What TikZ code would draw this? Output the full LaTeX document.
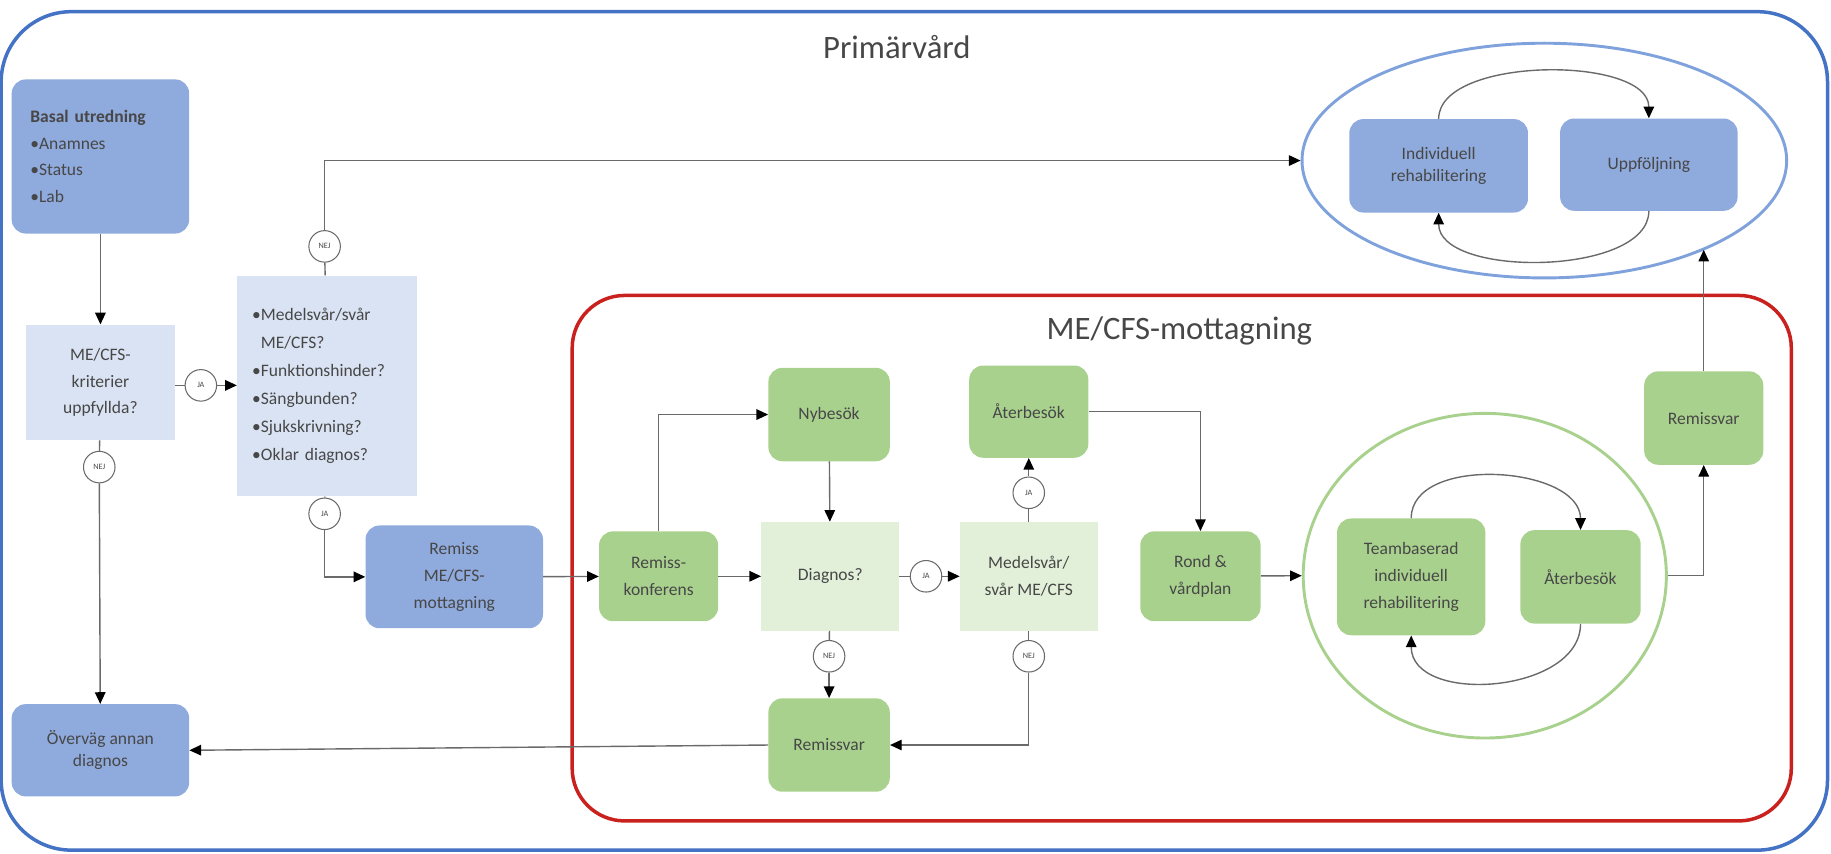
\documentclass[tikz,border=0pt]{standalone}
\usepackage{fontspec}
\setmainfont{Carlito}
\usepackage{xcolor}
\usetikzlibrary{shapes.geometric, arrows.meta}

\definecolor{boxblue}{HTML}{8FAADC}
\definecolor{paleblue}{HTML}{DAE3F3}
\definecolor{boxgreen}{HTML}{A9D18E}
\definecolor{palegreen}{HTML}{E2F0D9}
\definecolor{frameblue}{HTML}{4472C4}
\definecolor{ringblue}{HTML}{7FA1DC}
\definecolor{framered}{HTML}{C9211E}
\definecolor{ringgreen}{HTML}{A9D18E}
\definecolor{txt}{HTML}{474747}
\definecolor{wirec}{HTML}{6A6A6A}

\begin{document}
\begin{tikzpicture}[x=1pt, y=-1pt,
  box/.style={align=center, text=txt, font=\fontsize{15}{19}\selectfont, inner sep=2pt},
  bluebox/.style={box, fill=boxblue, rounded corners=12pt},
  greenbox/.style={box, fill=boxgreen, rounded corners=12pt},
  qbox/.style={box, fill=paleblue},
  qgreen/.style={box, fill=palegreen},
  answer/.style={circle, draw=wirec, fill=white, line width=0.9pt, minimum size=27pt, inner sep=0pt, text=txt, font=\fontsize{7}{8}\selectfont},
  ring/.style={ellipse, line width=2.5pt, inner sep=0pt},
  wire/.style={draw=wirec, line width=1.2pt},
  arr/.style={wire, -{Triangle[length=10pt, width=9pt, color=black]}},
  title/.style={text=txt, font=\fontsize{28}{30}\selectfont}]
\useasboundingbox (0,0) rectangle (1568,731);

% frames
\draw[frameblue, line width=3pt, rounded corners=60pt] (1,10) rectangle (1565,728);
\draw[framered, line width=3pt, rounded corners=45pt] (490,253) rectangle (1534,703);
\node[title] (primar) at (768,40) {Primärvård};
\node[title] (mottag) at (1010,283) {ME/CFS-mottagning};

% primary care
\node[bluebox, text width=120pt, align=left, minimum width=152pt, minimum height=132pt, font=\fontsize{15}{23}\selectfont] (basal) at (86,134)
  {{\bfseries Basal utredning}\\•Anamnes\\•Status\\•Lab};
\node[qbox, minimum width=128pt, minimum height=99pt, font=\fontsize{15}{23}\selectfont] (krit) at (86,327.5) {ME/CFS-\\kriterier\\uppfyllda?};
\node[qbox, text width=128pt, align=left, minimum width=154pt, minimum height=189pt, font=\fontsize{15}{24}\selectfont] (qlist) at (280,330.5)
  {•Medelsvår/svår\\\phantom{•}ME/CFS?\\•Funktionshinder?\\•Sängbunden?\\•Sjukskrivning?\\•Oklar diagnos?};
\node[bluebox, minimum width=152pt, minimum height=79pt] (ovv) at (86,642.5) {Överväg annan\\diagnos};
\node[bluebox, minimum width=152pt, minimum height=88pt, font=\fontsize{15}{23}\selectfont] (remiss) at (389,494) {Remiss\\ME/CFS-\\mottagning};

\node[answer] (ja1) at (172,330) {JA};
\node[answer] (nej1) at (278,211) {NEJ};
\node[answer] (nej2) at (85,400) {NEJ};
\node[answer] (ja2) at (278,440) {JA};

% ME/CFS clinic
\node[greenbox, minimum width=102pt, minimum height=77pt, font=\fontsize{15}{23}\selectfont] (konf) at (564,493.5) {Remiss-\\konferens};
\node[greenbox, minimum width=104pt, minimum height=80pt] (nyb) at (710,355) {Nybesök};
\node[qgreen, minimum width=118pt, minimum height=93pt] (diag) at (711,493.5) {Diagnos?};
\node[qgreen, minimum width=118pt, minimum height=93pt, font=\fontsize{15}{23}\selectfont] (medel) at (881,493.5) {Medelsvår/\\svår ME/CFS};
\node[greenbox, minimum width=102pt, minimum height=79pt] (ater) at (881,352.5) {Återbesök};
\node[greenbox, minimum width=103pt, minimum height=77pt, font=\fontsize{15}{23}\selectfont] (rond) at (1028,493.5) {Rond \&\\vårdplan};
\node[greenbox, minimum width=104pt, minimum height=80pt] (svar) at (710,638) {Remissvar};
\node[greenbox, minimum width=102pt, minimum height=80pt] (svarut) at (1459,358) {Remissvar};

\node[answer] (ja3) at (793,493.5) {JA};
\node[answer] (ja4) at (881,422) {JA};
\node[answer] (nej3) at (710,562) {NEJ};
\node[answer] (nej4) at (881,562) {NEJ};

% rehabilitation rings
\node[ring, draw=ringgreen, minimum width=311pt, minimum height=278pt] (gring) at (1271.5,493) {};
\node[greenbox, minimum width=127pt, minimum height=100pt, font=\fontsize{15}{23}\selectfont] (team) at (1208.5,494) {Teambaserad\\individuell\\rehabilitering};
\node[greenbox, minimum width=103pt, minimum height=80pt] (ater2) at (1353.5,494) {Återbesök};

\node[ring, draw=ringblue, minimum width=415pt, minimum height=201pt] (bring) at (1322.5,137.5) {};
\node[bluebox, minimum width=153pt, minimum height=80pt] (indiv) at (1232,142) {Individuell\\rehabilitering};
\node[bluebox, minimum width=152pt, minimum height=79pt] (uppf) at (1412,141) {Uppföljning};

% connectors
\draw[arr] (basal) -- (krit);
\draw[wire] (krit.east |- ja1) -- (ja1);
\draw[arr] (ja1) -- (qlist.west |- ja1);
\draw[wire] (krit) -- (nej2);
\draw[arr] (nej2) -- (ovv);
\draw[wire] (qlist) -- (nej1);
\draw[arr] (nej1) |- (bring.west);
\draw[wire] (qlist) -- (ja2);
\draw[arr] (ja2) |- (remiss.west);
\draw[arr] (remiss) -- (konf);
\draw[arr] (konf.north) |- (nyb.west);
\draw[arr] (konf) -- (diag);
\draw[arr] (nyb) -- (diag);
\draw[wire] (diag) -- (ja3);
\draw[arr] (ja3) -- (medel);
\draw[wire] (medel) -- (ja4);
\draw[arr] (ja4) -- (ater);
\draw[arr] (ater.east) -| (rond.north);
\draw[arr] (rond) -- (gring.west);
\draw[wire] (diag) -- (nej3);
\draw[arr] (nej3) -- (svar);
\draw[wire] (medel) -- (nej4);
\draw[arr] (nej4) |- (svar.east);
\draw[arr] (svar.west) -- (ovv.east);
\draw[arr] (gring.east) -| (svarut.south);
\draw[arr] (svarut.north) -- (svarut.north |- bring.-29);
\draw[arr] (team.north) .. controls +(0,-55) and +(0,-55) .. (ater2.north);
\draw[arr] (ater2.south) .. controls +(0,60) and +(0,60) .. (team.south);
\draw[arr] (indiv.north) .. controls +(0,-54) and +(0,-54) .. (uppf.north);
\draw[arr] (uppf.south) .. controls +(0,56) and +(0,56) .. (indiv.south);
\end{tikzpicture}
\end{document}
